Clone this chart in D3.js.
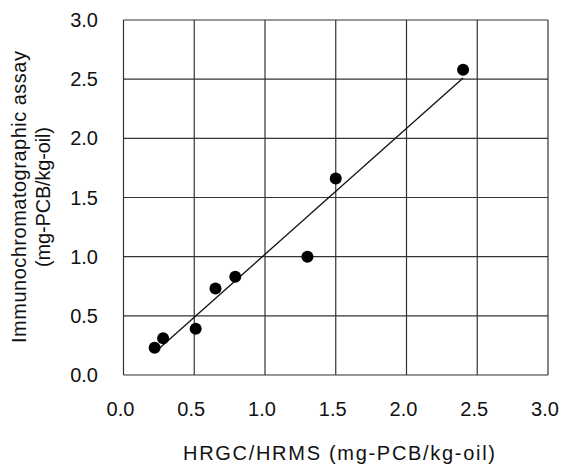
<!DOCTYPE html>
<html lang="en">
<head>
<meta charset="UTF-8"/>
<title>HRGC/HRMS vs immunochromatographic assay</title>
<script src="https://d3js.org/d3.v7.min.js"></script>
<style>
  body { margin: 0; background: #fff; }
  text { font-family: "Liberation Sans", Arial, sans-serif; fill: #111; }
</style>
</head>
<body>
<div id="chart"></div>
<script>
// data
var hrms  = [0.22, 0.28, 0.51, 0.65, 0.79, 1.30, 1.50, 2.40];
var assay = [0.23, 0.31, 0.39, 0.73, 0.83, 1.00, 1.66, 2.58];
var fitX = [0.22, 2.40];
var fitY = [0.19, 2.51];
var ticks = [0, 0.5, 1.0, 1.5, 2.0, 2.5, 3.0];

var w = 561, h = 464;
var pLeft = 123.5, pRight = 548, pTop = 20, pBottom = 375;

var svg = d3.select("#chart").append("svg")
  .attr("width", w).attr("height", h);

var x = d3.scaleLinear().domain([0, 3]).range([pLeft, pRight]);
var y = d3.scaleLinear().domain([0, 3]).range([pBottom, pTop]);

// grid
svg.append("g").selectAll("line").data(ticks).enter().append("line")
  .attr("x1", function(d) { return x(d); }).attr("x2", function(d) { return x(d); })
  .attr("y1", pTop).attr("y2", pBottom)
  .attr("stroke", "#333").attr("stroke-width", 1.2);
svg.append("g").selectAll("line").data(ticks).enter().append("line")
  .attr("y1", function(d) { return y(d); }).attr("y2", function(d) { return y(d); })
  .attr("x1", pLeft).attr("x2", pRight)
  .attr("stroke", "#333").attr("stroke-width", 1.2);

// tick labels
svg.append("g").selectAll("text").data(ticks).enter().append("text")
  .attr("x", function(d) { return x(d) - 3; })
  .attr("y", 416)
  .attr("text-anchor", "middle")
  .attr("font-size", "20px")
  .text(function(d) { return d.toFixed(1); });
svg.append("g").selectAll("text").data(ticks).enter().append("text")
  .attr("x", 98)
  .attr("y", function(d) { return y(d) + 7; })
  .attr("text-anchor", "end")
  .attr("font-size", "20px")
  .text(function(d) { return d.toFixed(1); });

// trend line
var fit = fitX.map(function(d, i) { return [d, fitY[i]]; });
svg.append("path")
  .datum(fit)
  .attr("d", d3.line().x(function(d) { return x(d[0]); }).y(function(d) { return y(d[1]); }))
  .attr("stroke", "#111").attr("stroke-width", 1.3).attr("fill", "none");

// points
svg.append("g").selectAll("circle").data(hrms).enter().append("circle")
  .attr("cx", function(d) { return x(d); })
  .attr("cy", function(d, i) { return y(assay[i]); })
  .attr("r", 6)
  .attr("fill", "#000");

// axis titles
svg.append("text")
  .attr("x", 339).attr("y", 460)
  .attr("text-anchor", "middle")
  .attr("font-size", "20px")
  .attr("textLength", 312).attr("lengthAdjust", "spacing")
  .text("HRGC/HRMS (mg-PCB/kg-oil)");

var yt = svg.append("text")
  .attr("transform", "translate(26,197) rotate(-90)")
  .attr("text-anchor", "middle")
  .attr("font-size", "20px");
yt.append("tspan").attr("x", 0).attr("y", 0)
  .attr("textLength", 292).attr("lengthAdjust", "spacing")
  .text("Immunochromatographic assay");
yt.append("tspan").attr("x", 0).attr("y", 24)
  .attr("textLength", 140).attr("lengthAdjust", "spacing")
  .text("(mg-PCB/kg-oil)");
</script>
</body>
</html>
